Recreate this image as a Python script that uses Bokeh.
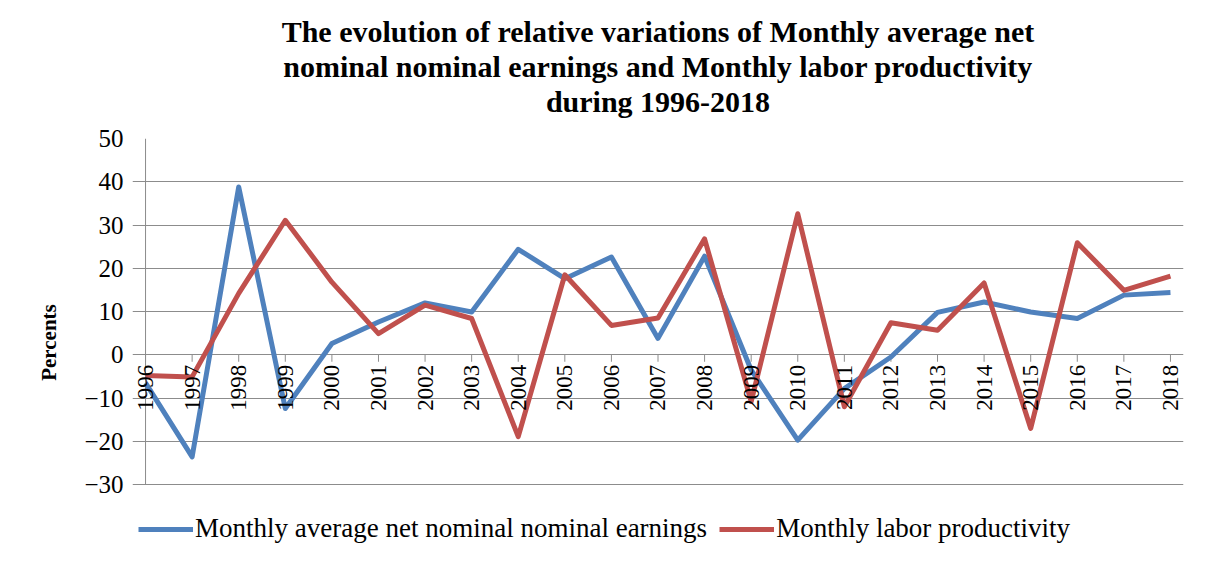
import math
from bokeh.plotting import figure
from bokeh.models import Range1d, FixedTicker, Legend, LegendItem, Title, LabelSet, ColumnDataSource
from bokeh.embed import file_html
from bokeh.resources import INLINE

years = list(range(1996, 2019))
earnings = [-6.5, -23.6, 38.8, -12.4, 2.6, 7.6, 12.0, 9.9, 24.4, 17.6, 22.6, 3.8,
            22.8, -3.5, -19.7, -7.8, -0.5, 9.8, 12.2, 9.9, 8.4, 13.8, 14.4]
productivity = [-4.8, -5.1, 14.2, 31.1, 16.8, 4.9, 11.5, 8.4, -18.9, 18.5, 6.8, 8.5,
                26.8, -10.8, 32.6, -12.0, 7.4, 5.7, 16.6, -17.0, 25.9, 14.9, 18.2]
y_ticks = [-30, -20, -10, 0, 10, 20, 30, 40, 50]
title_lines = ["The evolution of relative variations of Monthly average net",
               "nominal nominal earnings and Monthly labor productivity",
               "during 1996-2018"]
series_names = ["Monthly average net nominal nominal earnings", "Monthly labor productivity"]

SERIF = "Liberation Serif"
GRID = "#8c8c8c"
BLUE = "#4F81BD"
RED = "#C0504D"
TICK_LEN = 1.6   # tick marks below the zero line, in y units
X_PAD = 0.28     # room (in years) so the end year labels are not clipped
Y_LOW = -44.3    # plot area extends below -30 to hold the legend

p = figure(width=1190, height=551, output_backend="svg", toolbar_location=None,
           x_range=Range1d(years[0] - X_PAD, years[-1] + X_PAD),
           y_range=Range1d(Y_LOW, y_ticks[-1]), x_axis_location=None,
           min_border_left=132, min_border_right=7, min_border_top=138, min_border_bottom=5)
p.outline_line_color = None

# spacer between the title block and the plot area, then the three centred title lines
p.add_layout(Title(text=" ", text_font_size="17px", offset=0, standoff=0), "above")
for line in reversed(title_lines):
    p.add_layout(Title(text=line, align="center", text_font=SERIF, text_font_style="bold",
                       text_font_size="30px", text_color="black", offset=0, standoff=0), "above")

p.yaxis.ticker = FixedTicker(ticks=y_ticks)
p.yaxis.major_label_text_font = SERIF
p.yaxis.major_label_text_font_size = "25px"
p.yaxis.major_label_text_color = "black"
p.yaxis.axis_line_color = None
p.yaxis.major_tick_line_color = None
p.yaxis.minor_tick_line_color = None
p.yaxis.major_label_standoff = 3
p.yaxis.axis_label = "Percents"
p.yaxis.axis_label_text_font = SERIF
p.yaxis.axis_label_text_font_style = "bold"
p.yaxis.axis_label_text_font_size = "21px"
p.yaxis.axis_label_text_color = "black"
p.yaxis.axis_label_standoff = 20

p.xgrid.grid_line_color = None
p.ygrid.ticker = FixedTicker(ticks=y_ticks)
p.ygrid.grid_line_color = GRID
p.ygrid.grid_line_width = 1

# vertical axis line at the first category, spanning the tick range
p.segment(x0=[years[0]], y0=[y_ticks[0]], x1=[years[0]], y1=[y_ticks[-1]],
          line_color=GRID, line_width=1)
# category axis crossing at y = 0: tick marks and vertical year labels
p.segment(x0=years, y0=[0] * len(years), x1=years, y1=[-TICK_LEN] * len(years),
          line_color=GRID, line_width=1)
year_src = ColumnDataSource(dict(x=years, y=[0] * len(years), text=[str(y) for y in years]))
p.add_layout(LabelSet(x="x", y="y", text="text", source=year_src, angle=math.pi / 2,
                      text_align="right", text_baseline="middle", y_offset=-10,
                      text_font=SERIF, text_font_size="23px", text_color="black"))

r1 = p.line(years, earnings, line_color=BLUE, line_width=5, line_join="round")
r2 = p.line(years, productivity, line_color=RED, line_width=5, line_join="round")

# legend in the extra strip at the bottom of the plot area (screen px from its bottom-left)
legend = Legend(items=[LegendItem(label=series_names[0], renderers=[r1]),
                       LegendItem(label=series_names[1], renderers=[r2])],
                orientation="horizontal", location=(6, 2),
                label_text_font=SERIF, label_text_font_size="27px",
                label_text_color="black", glyph_width=55, glyph_height=20,
                label_standoff=2, spacing=12, border_line_color=None,
                background_fill_alpha=0, margin=0, padding=0)
p.add_layout(legend, "center")

open("out.html", "w").write(file_html(p, INLINE))
